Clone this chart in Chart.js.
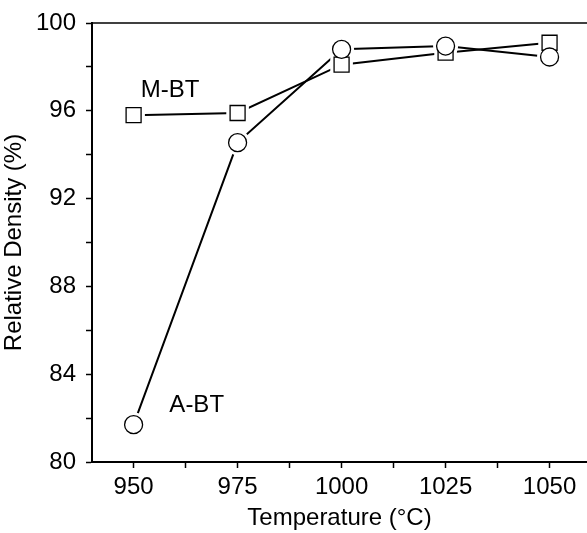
<!DOCTYPE html>
<html>
<head>
<meta charset="utf-8">
<script src="https://cdn.jsdelivr.net/npm/chart.js@4/dist/chart.umd.min.js"></script>
<style>
  html, body { margin: 0; padding: 0; background: #fff; overflow: hidden; }
</style>
</head>
<body>
<canvas id="densityChart" width="587" height="533"></canvas>
<script>
// Sintering temperature (°C)
const temperatures = [950, 975, 1000, 1025, 1050];
// Relative density (%) of each powder
const mbtDensity = [95.8, 95.9, 98.1, 98.65, 99.1];
const abtDensity = [81.7, 94.55, 98.8, 98.95, 98.45];
// Major tick labels
const xTickLabels = [950, 975, 1000, 1025, 1050];
const yTickLabels = [80, 84, 88, 92, 96, 100];

const FONT = 'Liberation Sans, Arial, sans-serif';

// add minor ticks halfway between the majors
const withMinors = majors => {
    const out = [];
    majors.forEach((v, i) => {
        out.push(v);
        if (i < majors.length - 1) out.push((v + majors[i + 1]) / 2);
    });
    return out;
};

const pts = values => temperatures.map((t, i) => ({ x: t, y: values[i] }));

// series labels and the top frame line
const extrasPlugin = {
    id: 'extras',
    afterDraw(chart) {
        const { ctx, chartArea } = chart;
        const xs = chart.scales.x, ys = chart.scales.y;
        ctx.save();
        ctx.strokeStyle = '#000';
        ctx.lineWidth = 1.5;
        ctx.beginPath();
        ctx.moveTo(chartArea.left, chartArea.top);
        ctx.lineTo(chart.width, chartArea.top);
        ctx.stroke();

        ctx.fillStyle = '#000';
        ctx.font = '24px ' + FONT;
        ctx.textBaseline = 'alphabetic';
        ctx.fillText('M-BT', xs.getPixelForValue(951.7), ys.getPixelForValue(96.62));
        ctx.fillText('A-BT', xs.getPixelForValue(958.6), ys.getPixelForValue(82.3));
        ctx.restore();
    }
};

const ctx = document.getElementById('densityChart').getContext('2d');
new Chart(ctx, {
    type: 'scatter',
    data: {
        datasets: [
            // connecting lines
            { data: pts(mbtDensity), showLine: true, borderColor: '#000', borderWidth: 2,
              pointRadius: 0, order: 5 },
            { data: pts(abtDensity), showLine: true, borderColor: '#000', borderWidth: 2,
              pointRadius: 0, order: 4 },
            // white halos so the lines stop short of the markers
            { data: pts(mbtDensity), showLine: false, pointStyle: 'rect', pointRadius: 16,
              backgroundColor: '#fff', borderColor: '#fff', borderWidth: 0, order: 3 },
            { data: pts(abtDensity), showLine: false, pointStyle: 'circle', pointRadius: 12.5,
              backgroundColor: '#fff', borderColor: '#fff', borderWidth: 0, order: 2 },
            // markers
            { label: 'M-BT', data: pts(mbtDensity), showLine: false, pointStyle: 'rect',
              pointRadius: 10.6, backgroundColor: '#fff', borderColor: '#000', borderWidth: 1.3, order: 1 },
            { label: 'A-BT', data: pts(abtDensity), showLine: false, pointStyle: 'circle',
              pointRadius: 9, backgroundColor: '#fff', borderColor: '#000', borderWidth: 1.3, order: 0 }
        ]
    },
    options: {
        responsive: false,
        animation: false,
        layout: { autoPadding: false, padding: { top: 23, right: 0, left: 0, bottom: 0 } },
        plugins: { legend: { display: false }, tooltip: { enabled: false } },
        scales: {
            x: {
                type: 'linear',
                min: 940,
                max: 1059,
                afterBuildTicks: axis => {
                    axis.ticks = withMinors(xTickLabels).map(v => ({ value: v }));
                },
                afterFit: axis => {
                    axis.height = 71;
                    axis.paddingLeft = 0;
                    axis.paddingRight = 0;
                },
                ticks: {
                    color: '#000',
                    font: { family: FONT, size: 24 },
                    padding: 5,
                    maxRotation: 0,
                    autoSkip: false,
                    callback: v => xTickLabels.includes(v) ? String(v) : ''
                },
                grid: { drawOnChartArea: false, drawTicks: true, tickLength: 6, tickColor: '#000', tickWidth: 1.5 },
                border: { display: true, color: '#000', width: 2 },
                title: {
                    display: true,
                    text: 'Temperature (°C)',
                    color: '#000',
                    font: { family: FONT, size: 24 },
                    padding: { top: 0, bottom: 0 }
                }
            },
            y: {
                min: 80,
                max: 100,
                afterBuildTicks: axis => {
                    axis.ticks = withMinors(yTickLabels).map(v => ({ value: v }));
                },
                afterFit: axis => {
                    axis.width = 92;
                    axis.paddingTop = 0;
                    axis.paddingBottom = 0;
                },
                ticks: {
                    color: '#000',
                    font: { family: FONT, size: 24 },
                    padding: 10,
                    autoSkip: false,
                    callback: v => yTickLabels.includes(v) ? String(v) : ''
                },
                grid: { drawOnChartArea: false, drawTicks: true, tickLength: 6, tickColor: '#000', tickWidth: 1.5 },
                border: { display: true, color: '#000', width: 2 },
                title: {
                    display: true,
                    text: 'Relative Density (%)',
                    color: '#000',
                    font: { family: FONT, size: 24 },
                    padding: { top: 0, bottom: 0 }
                }
            }
        }
    },
    plugins: [extrasPlugin]
});
</script>
</body>
</html>
